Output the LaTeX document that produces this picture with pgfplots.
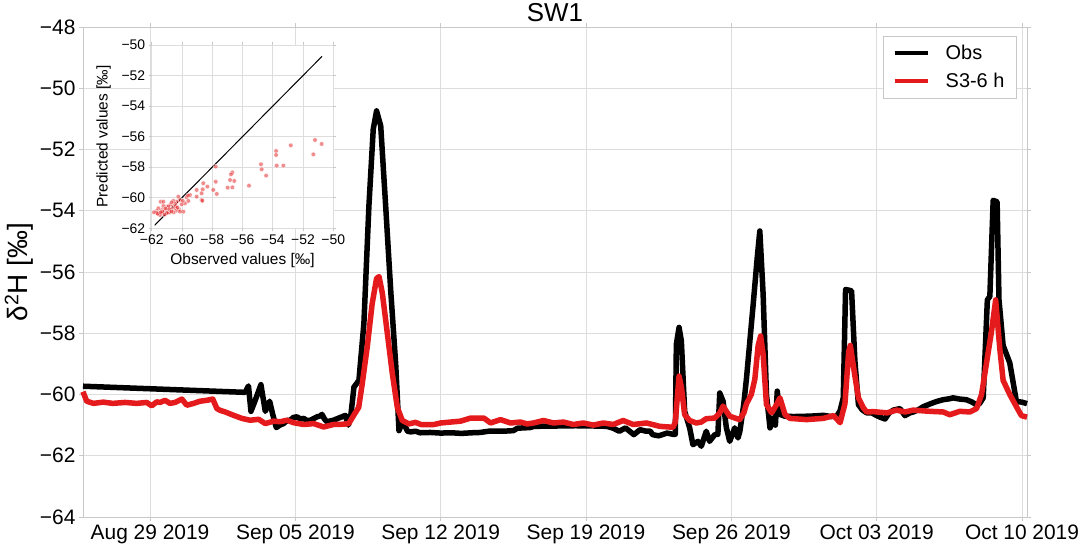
\documentclass[border=0pt]{standalone}
\usepackage{fontspec}
\setmainfont{Liberation Sans}
\usepackage{pgfplots}
\usepackage{pgfplotstable}
\pgfplotsset{compat=1.18}
\definecolor{gridgray}{HTML}{DDDDDD}
\definecolor{spinegray}{HTML}{C8C8C8}
\definecolor{lred}{HTML}{E41A1C}

\pgfplotstableread{
day val
-3.23 -59.73
4.58 -59.93
4.74 -59.72
4.86 -60.55
5.06 -60.20
5.34 -59.68
5.55 -60.55
5.76 -60.22
5.92 -60.68
6.08 -61.08
6.25 -61.00
6.43 -60.95
6.60 -60.85
6.75 -60.84
6.90 -60.75
7.07 -60.73
7.25 -60.80
7.40 -60.78
7.55 -60.85
7.72 -60.84
7.90 -60.78
8.04 -60.73
8.20 -60.70
8.28 -60.65
8.40 -60.80
8.52 -60.89
8.70 -60.86
8.84 -60.84
9.05 -60.78
9.24 -60.73
9.41 -60.68
9.55 -61.00
9.66 -60.74
9.75 -60.20
9.82 -59.76
10.06 -59.54
10.30 -57.68
10.54 -53.86
10.75 -51.34
10.91 -50.74
11.11 -51.23
11.35 -53.86
11.59 -56.59
11.83 -58.99
11.99 -61.18
12.10 -61.00
12.23 -60.96
12.40 -61.20
12.55 -61.22
12.80 -61.20
13.00 -61.25
13.50 -61.24
14.00 -61.26
14.50 -61.25
15.00 -61.27
15.50 -61.25
15.90 -61.24
16.30 -61.20
17.00 -61.20
17.50 -61.18
17.70 -61.10
18.30 -61.08
18.50 -61.04
19.50 -61.03
20.50 -61.02
21.50 -61.03
22.00 -61.04
22.30 -61.10
22.60 -61.20
22.90 -61.09
23.30 -61.31
23.60 -61.15
23.90 -61.20
24.10 -61.20
24.20 -61.31
24.50 -61.35
24.90 -61.26
25.20 -61.30
25.30 -61.30
25.35 -58.36
25.48 -57.81
25.59 -58.25
25.75 -60.55
25.99 -61.09
26.15 -61.64
26.39 -61.53
26.55 -61.69
26.79 -61.20
26.95 -61.53
27.20 -61.31
27.35 -61.30
27.44 -59.95
27.60 -60.22
27.76 -61.09
27.92 -61.53
28.16 -61.09
28.32 -61.42
28.41 -61.20
28.60 -60.30
28.73 -59.46
29.05 -57.06
29.25 -55.50
29.37 -54.66
29.53 -56.73
29.69 -60.00
29.86 -61.09
30.02 -60.76
30.12 -61.00
30.21 -59.89
30.34 -60.65
30.58 -60.71
31.00 -60.72
31.62 -60.71
32.00 -60.70
32.43 -60.68
32.80 -60.72
33.07 -60.71
33.23 -60.54
33.39 -60.11
33.50 -56.57
33.70 -56.60
33.79 -56.62
33.95 -58.91
34.12 -60.33
34.30 -60.50
34.52 -60.60
34.76 -60.60
35.00 -60.69
35.20 -60.75
35.40 -60.80
35.60 -60.60
35.80 -60.51
36.12 -60.46
36.36 -60.69
36.60 -60.60
36.76 -60.57
37.00 -60.50
37.24 -60.40
37.60 -60.30
37.88 -60.23
38.20 -60.17
38.50 -60.14
38.68 -60.11
39.00 -60.15
39.32 -60.17
39.60 -60.25
39.81 -60.34
39.95 -60.30
40.13 -60.11
40.33 -56.91
40.45 -56.80
40.61 -53.66
40.80 -53.71
40.89 -56.91
41.09 -58.40
41.41 -58.97
41.73 -60.23
42.00 -60.25
42.24 -60.30
}\obsdata

\pgfplotstableread{
day val
-3.23 -59.91
-3.05 -60.22
-2.73 -60.29
-2.25 -60.25
-1.80 -60.29
-1.20 -60.26
-0.65 -60.29
-0.16 -60.26
0.08 -60.37
0.32 -60.24
0.48 -60.26
0.72 -60.19
0.96 -60.29
1.20 -60.26
1.53 -60.15
1.77 -60.35
2.10 -60.29
2.40 -60.22
2.73 -60.19
3.02 -60.15
3.22 -60.46
3.38 -60.52
3.62 -60.57
4.02 -60.68
4.42 -60.78
4.82 -60.84
5.23 -60.81
5.55 -60.95
5.95 -60.87
6.27 -60.89
6.59 -60.84
6.91 -60.92
7.40 -60.98
7.88 -60.95
8.36 -61.06
8.84 -60.98
9.32 -60.97
9.57 -60.95
9.81 -60.68
10.05 -60.42
10.22 -59.65
10.46 -58.45
10.70 -57.03
10.91 -56.21
11.03 -56.15
11.19 -56.70
11.43 -58.01
11.67 -59.32
11.91 -60.42
12.15 -60.85
12.47 -60.96
12.79 -60.91
13.04 -60.98
13.68 -60.98
14.00 -60.93
14.96 -60.87
15.44 -60.77
16.08 -60.77
16.40 -60.93
16.88 -60.82
17.36 -60.93
17.84 -60.90
18.16 -60.96
18.47 -60.93
18.95 -60.85
19.43 -60.93
19.91 -60.90
20.39 -60.98
20.87 -60.93
21.35 -61.00
21.83 -60.93
22.31 -60.98
22.79 -60.85
23.27 -60.98
23.91 -60.93
24.55 -61.04
25.19 -61.07
25.30 -60.90
25.48 -59.40
25.60 -59.80
25.75 -60.66
25.99 -60.85
26.31 -60.93
26.55 -60.90
26.79 -60.79
27.20 -60.77
27.44 -60.60
27.60 -60.38
27.76 -60.55
27.92 -60.71
28.40 -60.82
28.60 -60.60
28.73 -60.30
28.96 -60.00
29.13 -59.50
29.29 -58.40
29.41 -58.09
29.53 -58.69
29.69 -60.33
29.94 -60.60
30.18 -60.33
30.34 -60.11
30.58 -60.65
30.82 -60.78
31.62 -60.82
32.43 -60.78
32.92 -60.69
33.24 -60.92
33.47 -60.30
33.65 -58.60
33.73 -58.40
33.95 -59.40
34.12 -60.11
34.36 -60.44
34.52 -60.57
34.84 -60.56
35.16 -60.58
35.50 -60.60
35.96 -60.51
36.36 -60.57
36.76 -60.51
37.56 -60.55
38.20 -60.57
38.52 -60.66
39.00 -60.55
39.48 -60.57
39.81 -60.46
40.05 -60.00
40.29 -58.97
40.53 -57.94
40.73 -56.91
40.93 -58.51
41.09 -59.54
41.41 -60.00
41.73 -60.40
41.97 -60.69
42.24 -60.74
}\simdata

\pgfplotstableread{
obs pred
-51.21 -56.22
-50.77 -56.48
-51.32 -57.16
-52.81 -56.57
-53.78 -56.94
-53.78 -57.20
-53.74 -57.90
-53.30 -57.90
-54.78 -57.81
-54.73 -58.14
-54.44 -58.55
-55.57 -59.21
-56.67 -58.34
-56.76 -58.47
-56.82 -58.84
-56.54 -58.90
-56.67 -59.32
-56.98 -59.34
-57.77 -57.96
-57.77 -58.95
-57.70 -59.75
-57.93 -59.49
-58.32 -59.27
-58.59 -59.05
-58.63 -59.45
-58.70 -59.71
-58.70 -60.15
-58.65 -60.20
-59.03 -59.49
-59.03 -59.93
-59.47 -59.82
-59.69 -59.97
-59.80 -60.36
-59.58 -60.21
-60.24 -59.93
-60.13 -60.15
-60.02 -60.43
-59.91 -60.91
-60.35 -60.26
-60.57 -60.21
-60.61 -60.58
-60.79 -60.47
-60.46 -60.69
-60.35 -60.84
-60.68 -60.80
-61.01 -60.58
-61.23 -60.54
-61.05 -60.80
-60.90 -60.98
-61.34 -60.80
-61.40 -60.26
-61.56 -60.69
-61.67 -60.87
-61.49 -61.02
-61.27 -61.02
-61.67 -60.98
-61.85 -60.95
-61.45 -61.13
-61.19 -60.91
-60.79 -60.95
-60.20 -60.76
-60.90 -60.58
-60.13 -60.91
-60.46 -60.41
-61.23 -60.26
-60.68 -60.30
-61.10 -60.70
-60.85 -60.75
-61.30 -60.90
-60.55 -60.95
-61.00 -61.00
-61.60 -61.05
-61.15 -61.10
-60.40 -60.55
-59.95 -60.20
-59.60 -59.85
-60.70 -60.90
-61.40 -60.95
-60.30 -60.65
}\scatterdata

\begin{document}
\begin{tikzpicture}[x=1bp,y=1bp]
\path[use as bounding box] (0,0) rectangle (1084,545);
\begin{axis}[
  at={(83bp,28bp)}, anchor=south west,
  width=944bp, height=490bp, scale only axis,
  xmin=-3.23, xmax=42.24, ymin=-64, ymax=-48,
  xtick={0,7,14,21,28,35,42},
  xticklabels={Aug 29 2019,Sep 05 2019,Sep 12 2019,Sep 19 2019,Sep 26 2019,Oct 03 2019,Oct 10 2019},
  ytick={-64,-62,-60,-58,-56,-54,-52,-50,-48},
  yticklabels={−64,−62,−60,−58,−56,−54,−52,−50,−48},
  grid=major, major grid style={gridgray, line width=0.8bp},
  axis line style={spinegray, line width=0.8bp},
  tick style={spinegray, line width=0.8bp},
  tick align=outside, major tick length=4bp,
  tick pos=both,
  tick label style={font=\fontsize{21}{21}\selectfont, text=black},
  ylabel={δ\textsuperscript{2}H [‰]},
  ylabel style={at={(axis description cs:0,0.5)}, anchor=center, yshift=64bp, font=\fontsize{28}{28}\selectfont},
  legend style={at={(0.989,0.982)}, anchor=north east, draw=spinegray, fill=white,
    font=\fontsize{20}{20}\selectfont, inner xsep=10bp, inner ysep=7bp, row sep=8bp,
    /tikz/every odd column/.append style={column sep=14bp}},
  legend cell align=left,
  legend image code/.code={\draw[#1, line width=4bp] (0bp,0bp) -- (33bp,0bp);},
  clip=false,
]
\addplot[black, line width=5.5bp, line join=round] table[x=day, y=val] {\obsdata};
\addlegendentry{Obs}
\addplot[lred, line width=5.5bp, line join=round] table[x=day, y=val] {\simdata};
\addlegendentry{S3-6 h}
\node[anchor=base, font=\fontsize{26}{26}\selectfont] at (axis description cs:0.5,1.0102) {SW1};
\end{axis}

\begin{axis}[
  at={(151.7bp,316.7bp)}, anchor=south west,
  width=181.6bp, height=183.3bp, scale only axis,
  axis background/.style={fill=white},
  xmin=-62, xmax=-50, ymin=-62, ymax=-50,
  xtick={-62,-60,-58,-56,-54,-52,-50},
  xticklabels={−62,−60,−58,−56,−54,−52,−50},
  ytick={-62,-60,-58,-56,-54,-52,-50},
  yticklabels={−62,−60,−58,−56,−54,−52,−50},
  grid=major, major grid style={gridgray, line width=0.7bp},
  axis line style={draw=none},
  tick style={spinegray, line width=0.7bp},
  tick align=outside, major tick length=3bp, tick pos=both,
  tick label style={font=\fontsize{14}{14}\selectfont, text=black},
  xlabel={Observed values [‰]},
  ylabel={Predicted values [‰]},
  xlabel style={at={(axis description cs:0.5,0)}, anchor=center, yshift=-32bp, font=\fontsize{15.5}{15.5}\selectfont},
  ylabel style={at={(axis description cs:0,0.5)}, anchor=center, yshift=48bp, font=\fontsize{15.5}{15.5}\selectfont},
]
\addplot[only marks, color=lred, mark=*, mark size=2.3bp, mark options={draw=white, line width=0.3bp, fill=lred, fill opacity=0.5}] table[x=obs, y=pred] {\scatterdata};
\addplot[black, line width=1bp] coordinates {(-61.8,-61.8) (-50.75,-50.75)};
\end{axis}
\end{tikzpicture}
\end{document}
